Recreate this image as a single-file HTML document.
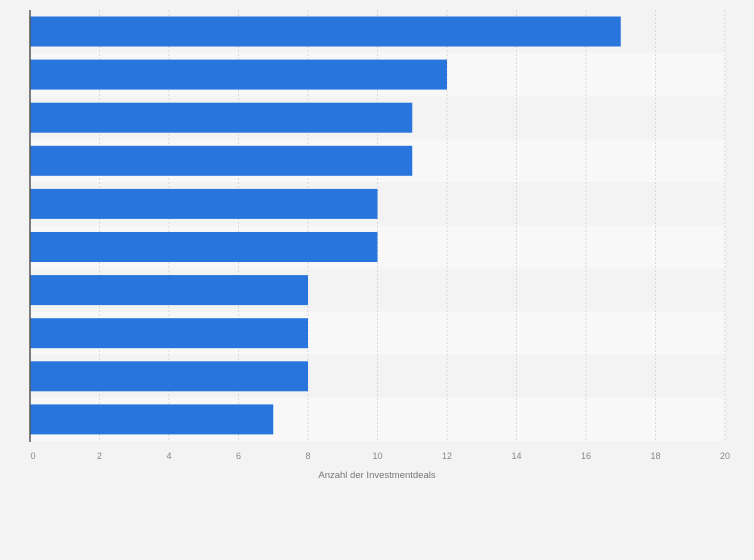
<!DOCTYPE html>
<html><head><meta charset="utf-8"><style>
html,body{margin:0;padding:0;background:#f3f3f3;}
svg{display:block;font-family:"Liberation Sans",sans-serif;}
</style></head><body>
<svg id="chart" width="754" height="560"></svg>
<script>
const categories=["Rank 1","Rank 2","Rank 3","Rank 4","Rank 5","Rank 6","Rank 7","Rank 8","Rank 9","Rank 10"];
const values=[17,12,11,11,10,10,8,8,8,7];
const ticks=[0,2,4,6,8,10,12,14,16,18,20];
const axisTitle="Anzahl der Investmentdeals";
const NS="http://www.w3.org/2000/svg";
const svg=document.getElementById('chart');
const x0=30,x1=725,plotTop=10,plotBottom=441,xmax=20;
const xs=v=>x0+(v/xmax)*(x1-x0);
const rowH=(plotBottom-plotTop)/categories.length;
const ys=i=>plotTop+i*rowH;
function mk(t,a){const e=document.createElementNS(NS,t);for(const k in a)e.setAttribute(k,a[k]);svg.appendChild(e);return e;}
categories.forEach((c,i)=>{
  const r=mk('rect',{x:x0,y:ys(i),width:x1-x0,height:rowH,fill:i%2?'#f8f8f8':'#f3f3f3'});
  
  
});
ticks.forEach(t=>{
  if(t>0){const l=mk('line',{x1:xs(t),x2:xs(t),y1:plotTop,y2:plotBottom,stroke:'#d8d8d8','stroke-dasharray':'2,2','stroke-width':1});
  
  }
  const tx=mk('text',{x:xs(t)+(t===0?3:0),y:459,'text-anchor':'middle','font-size':9,fill:'#888'});
  tx.textContent=t;
  
  
});
values.forEach((v,i)=>{
  const b=mk('rect',{x:x0,y:ys(i)+6.5,width:xs(v)-x0,height:30,fill:'#2876dd'});
  
  
});
const ax=mk('line',{x1:x0,x2:x0,y1:plotTop,y2:plotBottom+1,stroke:'#555','stroke-width':1.5});


const tt=mk('text',{x:377,y:478,'text-anchor':'middle','font-size':9.5,fill:'#777'});
tt.textContent=axisTitle;


</script>
</body></html>
